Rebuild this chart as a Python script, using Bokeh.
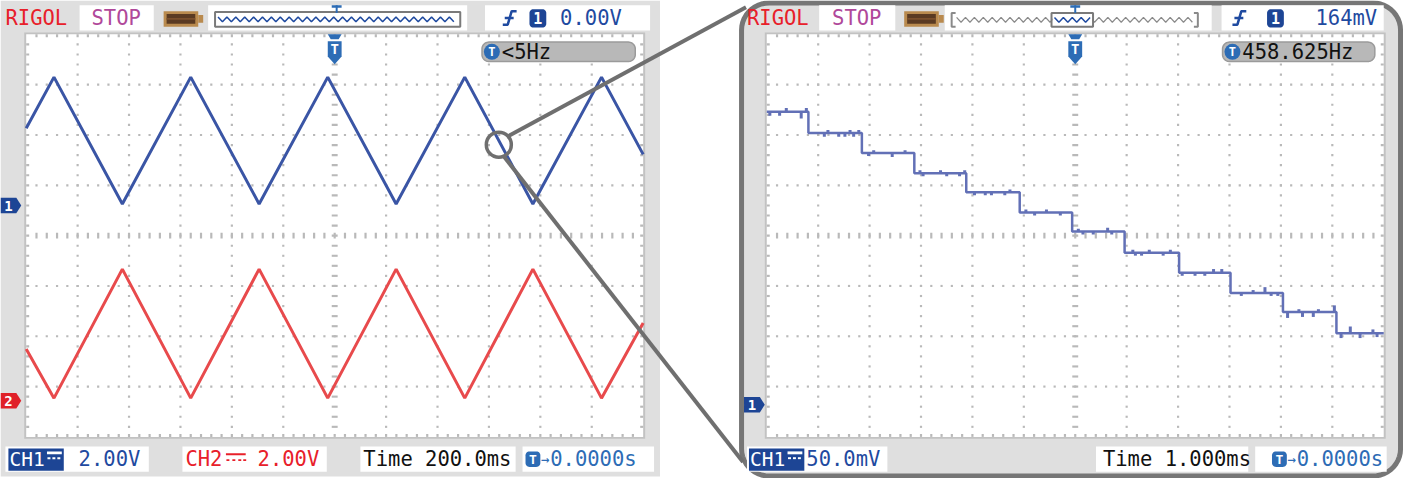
import numpy as np
from bokeh.plotting import figure
from bokeh.models import Range1d
from bokeh.core.properties import value
from bokeh.embed import file_html
from bokeh.resources import INLINE

# ---- values read off the two scope screens ----
# left screen: 200 ms/div, CH1 and CH2 at 2.00 V/div
tri_t = [-1200, -1092, -826, -560, -294, -27, 239, 506, 771, 1038, 1200]   # ms
ch1_v = [3.07, 5.10, 0.06, 5.10, 0.06, 5.10, 0.06, 5.10, 0.06, 5.10, 2.03]  # V
ch2_v = [2.05, 0.10, 5.23, 0.10, 5.23, 0.10, 5.23, 0.10, 5.23, 0.10, 3.09]  # V

# right screen (zoomed in): 1.000 ms/div, CH1 at 50.0 mV/div
step_t = [-6.0, -5.19, -4.15, -3.13, -2.12, -1.08, -0.06, 0.96, 2.02, 3.02, 4.04, 5.08, 6.0]  # ms
step_mv = [291, 270, 250, 230, 211, 191, 172, 151, 131, 111, 92, 71]  # mV

# small noise blips on the steps (time ms, offset from the step level mV)
glitch_t = [-5.94, -5.75, -5.62, -5.33, -5.23,
            -4.88, -4.81, -4.60, -4.48, -4.38, -4.31, -4.21,
            -4.02, -3.92, -3.56, -3.31,
            -3.02, -2.96, -2.62, -2.50, -2.25, -2.15,
            -1.96, -1.75, -1.63, -1.37, -1.27,
            -0.96, -0.79, -0.56, -0.29,
            0.06, 0.15, 0.35, 0.63, 0.71,
            1.12, 1.17, 1.29, 1.44, 1.71, 1.85,
            2.08, 2.33, 2.52, 2.69, 2.85,
            3.23, 3.46, 3.69, 3.81, 3.94,
            4.13, 4.35, 4.42, 4.63, 4.73, 5.04,
            5.17, 5.35, 5.54, 5.79, 5.87]
glitch_dmv = [-3.8, -3.8, 3.8, -6.7, 3.8,
              -3.8, 2.9, -3.8, -3.8, 2.9, -3.8, 2.9,
              -2.9, 2.9, -3.8, 2.9,
              2.9, -2.9, 2.9, -2.9, -2.9, 2.9,
              -2.9, -2.9, -2.9, -2.9, 2.9,
              2.9, -2.9, 2.9, -2.9,
              2.9, -2.9, -2.9, 3.8, -2.9,
              2.9, -2.9, -2.9, 2.9, -2.9, 2.9,
              -2.9, -2.9, -2.9, 3.8, 3.8,
              -2.9, 2.9, 5.8, -2.9, -2.9,
              -5.8, 2.9, -4.8, -4.8, 2.9, 6.7,
              -4.8, 6.7, -4.8, 3.8, -3.8]

# ---- page layout (reference pixels) ----
FONT = "DejaVu Sans Mono"
FS = 20.5
W, H = 1419, 494
DIV = 52
SUB = DIV / 5
Y0 = 35
LX0, RX0 = 26, 775
CY = Y0 + 4 * DIV
LCX = LX0 + 6 * DIV
RCX = RX0 + 6 * DIV
CH1_ZERO = CY - 0.6 * DIV
CH2_ZERO = CY + 3.28 * DIV
ZCH1_ZERO = CY + 3.36 * DIV

PANEL = "#dfdfdf"
BORDER = "#c2c2c2"
GRID = "#b9b9b9"
FRAME = "#767676"
RED = "#e8202a"
TRED = "#e84a4c"
STOPC = "#b0489a"
TXTB = "#1f4aa0"
TBLUE = "#2d6cb5"
TRACE1 = "#3a55a5"
TRACEZ = "#6270b6"

p = figure(width=1403, height=478, x_range=Range1d(0, W), y_range=Range1d(H, 0),
           x_axis_location=None, y_axis_location=None, toolbar_location=None,
           output_backend="svg", min_border=0)
p.grid.visible = False
p.outline_line_color = None
p.background_fill_color = "white"
p.border_fill_color = "white"

# scales for the traces
p.extra_x_ranges = {
    "t_left": Range1d(-LCX / 0.26, (W - LCX) / 0.26),
    "t_right": Range1d(-RCX / 52.0, (W - RCX) / 52.0),
}
p.extra_y_ranges = {
    "v1": Range1d((CH1_ZERO - H) / 26.0, CH1_ZERO / 26.0),
    "v2": Range1d((CH2_ZERO - H) / 26.0, CH2_ZERO / 26.0),
    "mv": Range1d((ZCH1_ZERO - H) / 1.04, ZCH1_ZERO / 1.04),
}


def box(x0, x1, y0, y1, color="white"):
    p.quad(left=x0, right=x1, top=y0, bottom=y1, fill_color=color, line_color=None)


def txt(x, y, s, color, size=FS, align="left", style="normal"):
    p.text(x=[x], y=[y], text=[s], text_color=color, text_font=value(FONT),
           text_font_size=f"{size}px", text_align=align, text_baseline="middle",
           text_font_style=style)


def rounded(x0, y0, x1, y1, r):
    xs, ys = [], []
    for cx, cy, a0 in [(x1 - r, y0 + r, -90), (x1 - r, y1 - r, 0),
                       (x0 + r, y1 - r, 90), (x0 + r, y0 + r, 180)]:
        a = np.radians(np.linspace(a0, a0 + 90, 12))
        xs += list(cx + r * np.cos(a))
        ys += list(cy + r * np.sin(a))
    return xs, ys


def screen(x0):
    x1 = x0 + 12 * DIV
    y1 = Y0 + 8 * DIV
    box(x0 - 2, x1 + 2, Y0 - 2, y1 + 2, BORDER)
    box(x0, x1, Y0, y1, "white")
    dx, dy = [], []
    for i in range(1, 12):
        if i == 6:
            continue
        for k in range(1, 40):
            dx.append(x0 + i * DIV)
            dy.append(Y0 + k * SUB)
    for j in range(1, 8):
        if j == 4:
            continue
        for k in range(1, 60):
            dx.append(x0 + k * SUB)
            dy.append(Y0 + j * DIV)
    p.rect(dx, dy, width=2.2, height=2.2, fill_color=GRID, line_color=None)
    cx = x0 + 6 * DIV
    kv = [Y0 + k * SUB for k in range(1, 40)]
    kh = [x0 + k * SUB for k in range(1, 60)]
    p.rect([cx] * len(kv), kv, width=6, height=2.2, fill_color=GRID, line_color=None)
    p.rect(kh, [CY] * len(kh), width=2.2, height=6, fill_color=GRID, line_color=None)
    p.rect([x0 + 1.5] * len(kv) + [x1 - 1.5] * len(kv), kv * 2, width=3, height=2.2,
           fill_color=GRID, line_color=None)
    p.rect(kh * 2, [Y0 + 1.5] * len(kh) + [y1 - 1.5] * len(kh), width=2.2, height=3,
           fill_color=GRID, line_color=None)


def trig_marker(cx):
    p.patch([cx - 7, cx + 7, cx + 4, cx - 4], [35, 35, 40, 40], fill_color=TBLUE, line_color=None)
    p.patch([cx - 7, cx + 7, cx + 7, cx, cx - 7], [42, 42, 58, 66, 58], fill_color=TBLUE, line_color=None)
    txt(cx, 50.5, "T", "white", 14, "center", "bold")


def ch_marker(x0, yc, color, label):
    p.patch([x0, x0 + 16, x0 + 21, x0 + 16, x0], [yc - 8, yc - 8, yc, yc + 8, yc + 8],
            fill_color=color, line_color=None)
    txt(x0 + 8, yc + 0.5, label, "white", 14, "center", "bold")


def battery(x0):
    box(x0, x0 + 35, 11, 27, "#b98a4e")
    box(x0 + 3, x0 + 32, 14, 24, "#5a3a22")
    box(x0 + 3, x0 + 32, 18, 20, "#7a4f2c")
    box(x0 + 35, x0 + 40, 15, 23, "#b98a4e")


def edge_icon(x):
    p.multi_line([[x, x + 5, x + 9, x + 14], [x + 2, x + 11]], [[25, 25, 11, 11], [18, 18]],
                 line_color=TXTB, line_width=2.5)


def one_badge(x):
    bx, by = rounded(x, 9, x + 17, 28, 4)
    p.patch(bx, by, fill_color="#1d4595", line_color=None)
    txt(x + 8.5, 18.5, "1", "white", 15, "center", "bold")


def freq_badge(x0, x1, label):
    bx, by = rounded(x0, 43, x1, 63, 7)
    p.patch(bx, by, fill_color="#b8b8b8", line_color="#9a9a9a", line_width=1.5)
    p.scatter([x0 + 10], [53], size=16, marker="circle", fill_color=TBLUE, line_color=None)
    txt(x0 + 10, 53.5, "T", "white", 12, "center", "bold")
    txt(x0 + 20, 53, label, "#111111")


def zigzag(xa, xb, yc, amp, period, color, width):
    xs = np.arange(xa, xb, period / 2)
    ys = [yc + (amp if i % 2 else -amp) for i in range(len(xs))]
    p.line(xs, ys, line_color=color, line_width=width)


def t_mark(cx):
    box(cx - 5, cx + 5, 5, 7.5, TBLUE)
    box(cx - 1, cx + 1, 5, 13, TBLUE)


def t_badge(x):
    bx, by = rounded(x, 466, x + 15, 482, 4)
    p.patch(bx, by, fill_color=TBLUE, line_color=None)
    txt(x + 7.5, 474.5, "T", "white", 13, "center", "bold")
    txt(x + 20, 474, "→", TBLUE, 14, "center")


def ch1_badge(x):
    box(x, x + 56, 463, 486, "#1d4595")
    txt(x + 1, 474.5, "CH1", "white", 19.5)
    box(x + 39, x + 54, 466, 469, "white")
    p.rect([x + 41, x + 46, x + 51], [473] * 3, width=3, height=2, fill_color="white", line_color=None)


# ---- left scope ----
box(0, 667, 0, 492, PANEL)
screen(LX0)

txt(5, 18, "RIGOL", RED)
box(80, 155, 5, 31)
txt(117, 18, "STOP", STOPC, align="center")
battery(165)
box(210, 472, 5, 31)
p.quad(left=217, right=465, top=12, bottom=27, fill_color=None, line_color="#7a7a7a", line_width=2)
zigzag(220, 463, 19.5, 2.5, 9, TXTB, 1.5)
t_mark(340)
box(490, 657, 5, 31)
edge_icon(508)
one_badge(535)
txt(566, 18, "0.00V", TXTB)
freq_badge(487, 642, "<5Hz")
trig_marker(LCX)
ch_marker(0, CH1_ZERO, "#1d4595", "1")
ch_marker(0, CH2_ZERO, "#e02028", "2")

box(5, 150, 461, 487)
ch1_badge(8)
txt(79, 474, "2.00V", TXTB)
box(184, 330, 461, 487)
txt(187, 474, "CH2", RED)
box(228, 248, 468, 470, RED)
p.rect([230, 236, 242, 247], [475] * 4, width=3, height=2, fill_color=RED, line_color=None)
txt(260, 474, "2.00V", RED)
box(364, 521, 461, 487)
txt(367, 474, "Time 200.0ms", "#111111")
box(528, 661, 461, 487)
t_badge(531)
txt(556, 474, "0.0000s", TBLUE)

p.line(tri_t, ch1_v, x_range_name="t_left", y_range_name="v1", line_color=TRACE1, line_width=3)
p.line(tri_t, ch2_v, x_range_name="t_left", y_range_name="v2", line_color=TRED, line_width=3)

# ---- right scope (zoomed) ----
fx, fy = rounded(749.5, 2.5, 1416, 491.5, 28)
p.patch(fx, fy, fill_color=PANEL, line_color=FRAME, line_width=5)
screen(RX0)

txt(755, 18, "RIGOL", RED)
box(828, 905, 5, 31)
txt(866, 18, "STOP", STOPC, align="center")
battery(914)
box(955, 1225, 5, 31)
p.multi_line([[966, 962, 962, 966], [1207, 1211, 1211, 1207]], [[13, 13, 27, 27], [13, 13, 27, 27]],
             line_color="#8a8a8a", line_width=2)
zigzag(967, 1206, 20, 2.5, 9, "#8a8a8a", 1.2)
box(1064, 1104, 14, 26)
p.quad(left=1063, right=1105, top=13, bottom=27, fill_color=None, line_color="#7a7a7a", line_width=2)
zigzag(1066, 1103, 20, 2.5, 9, TXTB, 1.5)
t_mark(1087)
box(1235, 1399, 5, 31)
edge_icon(1246)
one_badge(1281)
txt(1330, 18, "164mV", TXTB)
freq_badge(1236, 1390, "458.625Hz")
trig_marker(RCX)
ch_marker(752, ZCH1_ZERO, "#1d4595", "1")

box(755, 897, 461, 487)
ch1_badge(757)
txt(815, 474, "50.0mV", TXTB)
box(1108, 1262, 461, 487)
txt(1115, 474, "Time 1.000ms", "#111111")
box(1269, 1402, 461, 487)
t_badge(1286)
txt(1311, 474, "0.0000s", TBLUE)

p.step(step_t, step_mv + [step_mv[-1]], mode="after", x_range_name="t_right", y_range_name="mv",
       line_color=TRACEZ, line_width=2.5)
base = np.array(step_mv)[np.searchsorted(step_t, glitch_t) - 1]
p.segment(x0=glitch_t, y0=base, x1=glitch_t, y1=base + np.array(glitch_dmv),
          x_range_name="t_right", y_range_name="mv", line_color=TRACEZ, line_width=3)

# ---- zoom callout ----
p.segment(x0=[512, 509], y0=[141, 161], x1=[754, 751], y1=[7, 477], line_color="#6f6f6f", line_width=4)
p.scatter([504], [149], size=25, marker="circle", fill_color=None, line_color="#6f6f6f", line_width=3.5)

open("out.html", "w").write(file_html(p, INLINE))
